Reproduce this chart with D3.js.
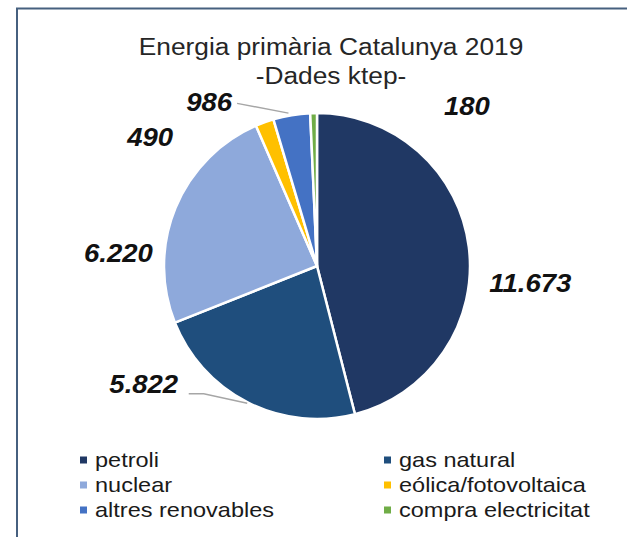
<!DOCTYPE html>
<html>
<head>
<meta charset="utf-8">
<script src="https://cdn.jsdelivr.net/npm/d3@7"></script>
<style>
  html, body { margin: 0; padding: 0; background: #fff; }
  svg { display: block; }
  text { font-family: "Liberation Sans", Arial, sans-serif; }
</style>
</head>
<body>
<svg id="chart" width="627" height="537"></svg>
<script>
// ---- data ----
const categories = ["petroli", "gas natural", "nuclear", "eólica/fotovoltaica", "altres renovables", "compra electricitat"];
const values = [11673, 5822, 6220, 490, 986, 180];
const valueLabels = ["11.673", "5.822", "6.220", "490", "986", "180"];
const colors = ["#203864", "#1F4E7D", "#8EA9DB", "#FFC000", "#4472C4", "#70AD47"];
const titleLines = ["Energia primària Catalunya 2019", "-Dades ktep-"];

// label placement: [angle (deg, clockwise from 12 o'clock), distance from centre]
const labelPolar = [[94.6, 214], [235.6, 210], [273.7, 199], [307.7, 211], [326.6, 196], [43.2, 219]];
const leader = [false, true, false, false, true, false];

const svg = d3.select("#chart");
const W = 627, H = 537;
const cx = 317, cy = 266, R = 153;
const SX = 1.12; // horizontal stretch of the reference's text

// frame
svg.append("path")
  .attr("d", `M17,${H} L17,8.5 L${W},8.5`)
  .attr("fill", "none").attr("stroke", "#46607F").attr("stroke-width", 2);

// title
titleLines.forEach((t, i) => {
  svg.append("text").attr("transform", `translate(331,${55 + i * 29}) scale(${SX},1)`)
    .attr("text-anchor", "middle")
    .attr("font-size", 23.5).attr("fill", "#262626").text(t);
});

const data = categories.map((c, i) => ({ name: c, value: values[i], label: valueLabels[i], color: colors[i], i }));
const pie = d3.pie().sort(null).value(d => d.value);
const arcs = pie(data);
const arc = d3.arc().innerRadius(0).outerRadius(R);

const g = svg.append("g").attr("transform", `translate(${cx},${cy})`);
g.selectAll("path.slice").data(arcs).enter().append("path")
  .attr("class", "slice")
  .attr("d", arc)
  .attr("fill", d => d.data.color)
  .attr("stroke", "#fff").attr("stroke-width", 2.5).attr("stroke-linejoin", "round");

const polar = (deg, r) => {
  const a = deg * Math.PI / 180;
  return [r * Math.sin(a), -r * Math.cos(a)];
};

// leader lines
arcs.forEach((d, i) => {
  if (!leader[i]) return;
  const [lx, ly] = polar(labelPolar[i][0], labelPolar[i][1]);
  const mid = (d.startAngle + d.endAngle) / 2;
  const ex = (R + 1) * Math.sin(mid), ey = -(R + 1) * Math.cos(mid);
  let pts;
  if (i === 1) {
    pts = [[lx + 45, ly + 9], [lx + 60, ly + 9], [ex, ey]];
  } else {
    pts = [[lx + 28, ly + 1], [ex - 3, ey - 1]];
  }
  g.append("path").attr("d", d3.line()(pts))
    .attr("fill", "none").attr("stroke", "#A6A6A6").attr("stroke-width", 1.5);
});

// value labels
arcs.forEach((d, i) => {
  const [lx, ly] = polar(labelPolar[i][0], labelPolar[i][1]);
  g.append("text").attr("transform", `translate(${lx},${ly}) scale(1.1,1)`)
    .attr("dy", "0.35em")
    .attr("text-anchor", "middle")
    .attr("font-size", 25).attr("font-weight", "bold").attr("font-style", "italic")
    .attr("fill", "#111").text(d.data.label);
});

// legend
const legCols = [80, 384], legRows = [460, 485, 510];
data.forEach((d, i) => {
  const x = legCols[i % 2], y = legRows[Math.floor(i / 2)];
  svg.append("rect").attr("x", x).attr("y", y - 3.5).attr("width", 7).attr("height", 7).attr("fill", d.color);
  svg.append("text").attr("transform", `translate(${x + 15},${y}) scale(${SX},1)`)
    .attr("dy", "0.35em")
    .attr("font-size", 21).attr("fill", "#1a1a1a").text(d.name);
});
</script>
</body>
</html>
